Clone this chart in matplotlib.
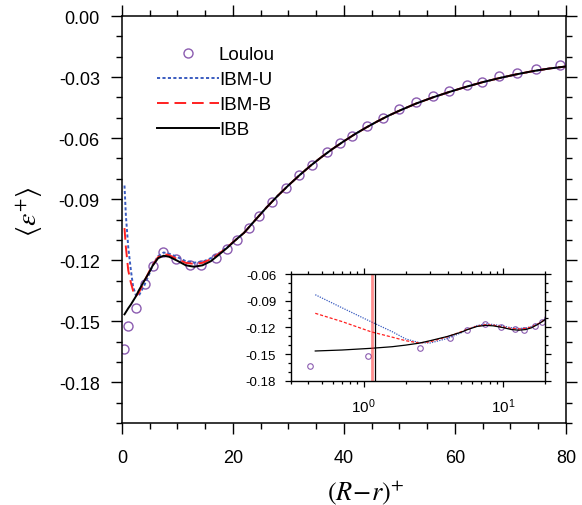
import matplotlib
matplotlib.use("Agg")
import matplotlib.pyplot as plt
from matplotlib.ticker import MultipleLocator, FormatStrFormatter, LogLocator, NullFormatter

plt.rcParams["font.family"] = ["Liberation Sans", "DejaVu Sans"]
plt.rcParams["axes.unicode_minus"] = False
plt.rcParams["mathtext.fontset"] = "stix"

# Loulou reference data
LOULOU_X = [0.41, 1.08, 2.52, 4.14, 5.53, 7.45, 9.67, 12.2, 14.2, 16.9, 18.9, 20.8,
            22.8, 24.7, 27.1, 29.5, 31.9, 34.3, 36.9, 39.2, 41.5, 44.1, 47.0, 49.9,
            53.0, 56.0, 59.0, 62.2, 64.8, 67.9, 71.2, 74.6, 79.0]
LOULOU_Y = [-0.1638, -0.1525, -0.1436, -0.1315, -0.1228, -0.1162, -0.1192, -0.1223,
            -0.1225, -0.1187, -0.1143, -0.1100, -0.1044, -0.0982, -0.0913, -0.0844,
            -0.0782, -0.0731, -0.0670, -0.0626, -0.0589, -0.0541, -0.0502, -0.0459,
            -0.0423, -0.0393, -0.0369, -0.0339, -0.0326, -0.0297, -0.0280, -0.0262,
            -0.0239]

# near-wall part of each simulation profile
NEAR_X = [0.45, 0.7, 1.13, 1.6, 2.0, 2.5, 3.0, 4.0, 5.0, 5.5, 6.5, 7.5, 8.5, 10.0,
          11.5, 13.0, 14.5, 16.0, 17.5, 19.0, 20.5]
IBMU_NEAR = [-0.0833, -0.0980, -0.1137, -0.1248, -0.1330, -0.1372, -0.1376, -0.1325,
             -0.1262, -0.1225, -0.1180, -0.1162, -0.1168, -0.1185, -0.1205, -0.1212,
             -0.1208, -0.1190, -0.1165, -0.1135, -0.1100]
IBMB_NEAR = [-0.1042, -0.1135, -0.1250, -0.1310, -0.1350, -0.1376, -0.1362, -0.1305,
             -0.1250, -0.1225, -0.1185, -0.1170, -0.1175, -0.1195, -0.1213, -0.1218,
             -0.1213, -0.1195, -0.1168, -0.1135, -0.1100]
IBB_NEAR = [-0.1466, -0.1455, -0.1436, -0.1418, -0.1400, -0.1378, -0.1350, -0.1302,
            -0.1255, -0.1228, -0.1190, -0.1178, -0.1183, -0.1203, -0.1225, -0.1232,
            -0.1225, -0.1205, -0.1172, -0.1138, -0.1100]

# outer part, where the three simulations coincide
FAR_X = [22, 24, 26, 28, 30, 32, 34, 36, 38, 40, 42, 44, 46, 48, 50, 53, 56, 59, 62,
         65, 68, 71, 74, 77, 80]
FAR_Y = [-0.1065, -0.1003, -0.0942, -0.0885, -0.0832, -0.0782, -0.0735, -0.0692,
         -0.0652, -0.0615, -0.0580, -0.0548, -0.0518, -0.0490, -0.0465, -0.0430,
         -0.0400, -0.0373, -0.0348, -0.0325, -0.0305, -0.0287, -0.0271, -0.0258,
         -0.0248]

# vertical markers in the inset
VLINE_RED = 1.14
VLINE_BLACK = 1.21

PURPLE = "#8b5cb0"
BLUE = "#3a5cc0"
RED = "#ff2020"


def main():
    x = NEAR_X + FAR_X
    # name, values, colour, main style, inset style
    series = [
        ("IBM-U", IBMU_NEAR + FAR_Y, BLUE, (0, (1.6, 1.2)), (0, (1, 1))),
        ("IBM-B", IBMB_NEAR + FAR_Y, RED, (0, (6, 3)), (0, (2.5, 1.5))),
        ("IBB", IBB_NEAR + FAR_Y, "black", "-", "-"),
    ]

    fig = plt.figure(figsize=(5.82, 5.06), dpi=100)
    ax = fig.add_axes([0.2096, 0.162, 0.7629, 0.8044])

    ax.plot(LOULOU_X, LOULOU_Y, "o", ms=6.5, mfc="none", mec=PURPLE, mew=1.0, label="Loulou")
    for name, y, c, ls, _ in series:
        ax.plot(x, y, color=c, ls=ls, lw=1.4, label=name)

    ax.set_xlim(0, 80)
    ax.set_ylim(-0.20, 0.0)
    ax.xaxis.set_major_locator(MultipleLocator(20))
    ax.xaxis.set_minor_locator(MultipleLocator(5))
    ax.yaxis.set_major_locator(MultipleLocator(0.03))
    ax.yaxis.set_minor_locator(MultipleLocator(0.01))
    ax.yaxis.set_major_formatter(FormatStrFormatter("%.2f"))
    ax.tick_params(which="both", direction="out", top=True, right=True, width=1.0)
    ax.tick_params(which="major", length=8, labelsize=13)
    ax.tick_params(which="minor", length=4)
    ax.tick_params(axis="y", pad=8)
    ax.tick_params(axis="x", pad=11)
    for s in ax.spines.values():
        s.set_linewidth(1.1)

    ax.legend(loc="upper left", bbox_to_anchor=(0.079, 0.926), frameon=False,
              handlelength=3.3, handletextpad=0.0, borderpad=0, borderaxespad=0,
              labelspacing=0.42, fontsize=13.5, numpoints=1)

    fig.text(30 / 582, 1 - 212 / 506, r"$\langle\varepsilon^{+}\rangle$", rotation=90,
             ha="center", va="center", fontsize=20)
    fig.text(366 / 582, 1 - 493 / 506, r"$(R\!-\!r)^{+}$", ha="center", va="center",
             fontsize=19)

    # inset, log scale in x
    ins = fig.add_axes([0.4995, 0.2457, 0.437, 0.2108])
    ins.plot(LOULOU_X, LOULOU_Y, "o", ms=4, mfc="none", mec=PURPLE, mew=0.8)
    for name, y, c, _, ls in series:
        ins.plot(x, y, color=c, ls=ls, lw=0.9)
    ins.axvline(VLINE_RED, color=RED, alpha=0.5, lw=2.0)
    ins.axvline(VLINE_BLACK, color="black", lw=0.9)
    ins.set_xscale("log")
    ins.set_xlim(0.3, 20)
    ins.set_ylim(-0.18, -0.06)
    ins.xaxis.set_major_locator(LogLocator(base=10))
    ins.xaxis.set_minor_locator(LogLocator(base=10, subs=range(2, 10)))
    ins.xaxis.set_minor_formatter(NullFormatter())
    ins.yaxis.set_major_locator(MultipleLocator(0.03))
    ins.yaxis.set_minor_locator(MultipleLocator(0.01))
    ins.yaxis.set_major_formatter(FormatStrFormatter("%.2f"))
    ins.tick_params(which="both", direction="out", top=True, right=True, width=0.9)
    ins.tick_params(which="major", length=4.5)
    ins.tick_params(which="minor", length=2.5)
    ins.tick_params(axis="y", pad=6, labelsize=9.5)
    ins.tick_params(axis="x", pad=7, labelsize=11)
    for s in ins.spines.values():
        s.set_linewidth(1.0)

    fig.savefig("out.png", dpi=100)
    plt.close(fig)


if __name__ == "__main__":
    main()
